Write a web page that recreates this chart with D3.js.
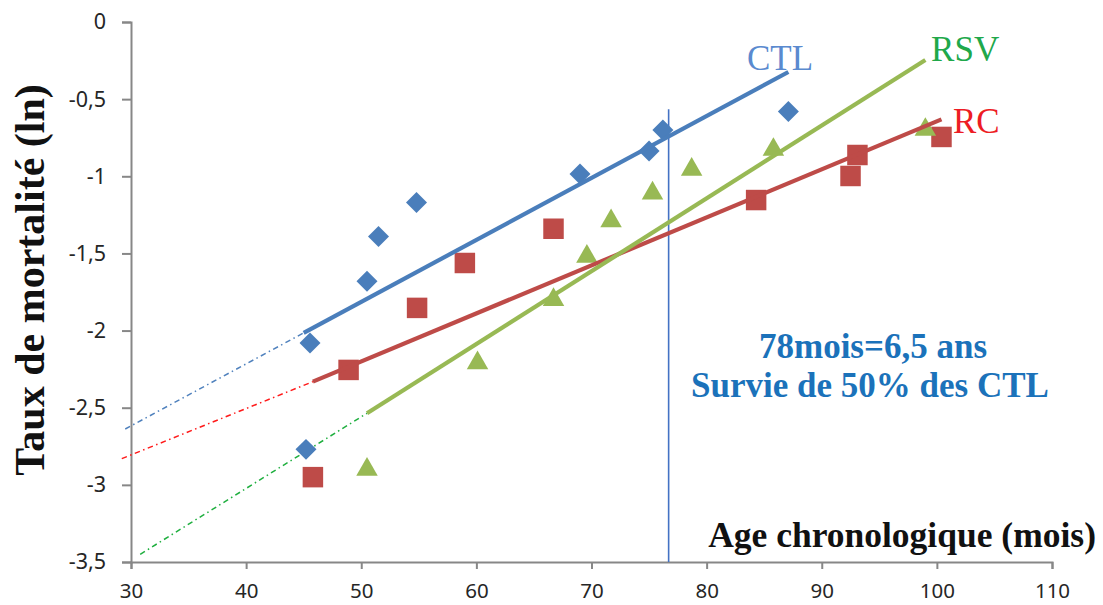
<!DOCTYPE html>
<html>
<head>
<meta charset="utf-8">
<script src="https://cdn.jsdelivr.net/npm/d3@7/dist/d3.min.js"></script>
<style>
  html, body { margin: 0; padding: 0; background: #fff; }
  svg { display: block; }
</style>
</head>
<body>
<svg id="chart" width="1103" height="605"></svg>
<script>
// ---- Data ----
const xTicks = [30, 40, 50, 60, 70, 80, 90, 100, 110];
const yTicks = [0, -0.5, -1, -1.5, -2, -2.5, -3, -3.5];

const ctlX = [45.55, 45.2, 50.5, 51.5, 54.8, 69.0, 75.0, 76.2, 87.1];
const ctlY = [-2.08, -2.77, -1.68, -1.39, -1.17, -0.985, -0.836, -0.70, -0.58];

const rcX = [45.8, 48.9, 54.85, 59.0, 66.7, 84.3, 92.5, 93.1, 100.4];
const rcY = [-2.95, -2.255, -1.853, -1.562, -1.34, -1.154, -0.998, -0.862, -0.745];

const rsvX = [50.5, 60.1, 66.7, 69.6, 71.7, 75.3, 78.7, 85.8, 99.0];
const rsvY = [-2.90, -2.21, -1.80, -1.52, -1.29, -1.11, -0.956, -0.827, -0.697];

// trend lines (solid) and backward extrapolations (dash-dot)
const ctlTrend = [[45.0, -2.015], [87.1, -0.324]];
const ctlExt   = [[29.5, -2.638], [45.0, -2.015]];
const rcTrend  = [[45.8, -2.331], [100.4, -0.631]];
const rcExt    = [[29.2, -2.83], [45.8, -2.331]];
const rsvTrend = [[50.5, -2.536], [99.0, -0.246]];
const rsvExt   = [[30.8, -3.45], [50.5, -2.536]];

const medianAge = 76.7;       // vertical reference line (mois)
const medianTop = -0.565;

const seriesNames = ["CTL", "RC", "RSV"];
const annotLines = ["78mois=6,5 ans", "Survie de 50% des CTL"];
const yTitle = "Taux de mortalité (ln)";
const xTitle = "Age chronologique (mois)";

// ---- Drawing ----
const svg = d3.select("#chart");
const x = d3.scaleLinear().domain([30, 110]).range([131, 1052]);
const y = d3.scaleLinear().domain([-3.5, 0]).range([562, 22]);

const fmt = v => String(v).replace(".", ",");
const axisColor = "#878787";
const tickFont = "'Noto Sans', 'Open Sans', sans-serif";

// Y axis
const gy = svg.append("g").attr("transform", `translate(${x(30)},0)`)
  .call(d3.axisLeft(y).tickValues(yTicks).tickFormat(fmt).tickSize(9).tickPadding(16));
gy.select(".domain").attr("stroke", axisColor).attr("stroke-width", 2);
gy.selectAll(".tick line").attr("stroke", axisColor).attr("stroke-width", 2);
gy.selectAll(".tick text").attr("font-family", tickFont).attr("font-size", 21.5).attr("fill", "#262626");

// X axis
const gx = svg.append("g").attr("transform", `translate(0,${y(-3.5)})`)
  .call(d3.axisBottom(x).tickValues(xTicks).tickFormat(d3.format("d")).tickSize(7).tickPadding(14));
gx.select(".domain").attr("stroke", axisColor).attr("stroke-width", 2);
gx.selectAll(".tick line").attr("stroke", axisColor).attr("stroke-width", 2);
gx.selectAll(".tick text").attr("font-family", tickFont).attr("font-size", 20.5).attr("fill", "#262626");

const line = d3.line().x(d => x(d[0])).y(d => y(d[1]));

// dash-dot extrapolations
const extStyle = [
  [ctlExt, "#4F81BD"],
  [rcExt, "#FF1A1A"],
  [rsvExt, "#1FAF3F"]
];
extStyle.forEach(([d, c]) => {
  svg.append("path").attr("d", line(d)).attr("fill", "none")
    .attr("stroke", c).attr("stroke-width", 1.5).attr("stroke-dasharray", "5.5,3.5,1.5,3.5");
});

// vertical reference line
svg.append("line")
  .attr("x1", x(medianAge)).attr("x2", x(medianAge))
  .attr("y1", y(medianTop)).attr("y2", y(-3.5))
  .attr("stroke", "#4472C4").attr("stroke-width", 1.6);

// markers
const ctlColor = "#4A7EBB", rcColor = "#BE4B48", rsvColor = "#98B954";
const sym = (type, size) => d3.symbol().type(type).size(size)();

svg.append("g").selectAll("path").data(rcX.map((v, i) => [v, rcY[i]])).join("path")
  .attr("d", sym(d3.symbolSquare, 420))
  .attr("transform", d => `translate(${x(d[0])},${y(d[1])})`)
  .attr("fill", rcColor);

svg.append("g").selectAll("path").data(rsvX.map((v, i) => [v, rsvY[i]])).join("path")
  .attr("d", sym(d3.symbolTriangle, 200))
  .attr("transform", d => `translate(${x(d[0])},${y(d[1])})`)
  .attr("fill", rsvColor);

svg.append("g").selectAll("path").data(ctlX.map((v, i) => [v, ctlY[i]])).join("path")
  .attr("d", sym(d3.symbolSquare, 220))
  .attr("transform", d => `translate(${x(d[0])},${y(d[1])}) rotate(45)`)
  .attr("fill", ctlColor);

// solid trend lines
[[ctlTrend, ctlColor], [rcTrend, rcColor], [rsvTrend, rsvColor]].forEach(([d, c]) => {
  svg.append("path").attr("d", line(d)).attr("fill", "none")
    .attr("stroke", c).attr("stroke-width", 4.2);
});

// series labels
const serif = "'Liberation Serif', 'DejaVu Serif', serif";
svg.append("text").attr("x", x(83.5)).attr("y", y(-0.31)).text(seriesNames[0])
  .attr("font-family", serif).attr("font-size", 35).attr("fill", "#5A8ACF");
svg.append("text").attr("x", x(101.4)).attr("y", y(-0.72)).text(seriesNames[1])
  .attr("font-family", serif).attr("font-size", 35).attr("fill", "#ED1C24");
svg.append("text").attr("x", x(99.5)).attr("y", y(-0.25)).text(seriesNames[2])
  .attr("font-family", serif).attr("font-size", 35).attr("fill", "#20A84A");

// annotation
const ann = svg.append("text").attr("font-family", serif).attr("font-weight", "bold")
  .attr("font-size", 35).attr("fill", "#1B72BA").attr("text-anchor", "middle");
ann.append("tspan").attr("x", 873).attr("y", 358).text(annotLines[0]);
ann.append("tspan").attr("x", 870).attr("y", 397).text(annotLines[1]);

// axis titles
svg.append("text").attr("transform", "translate(44,280) rotate(-90)")
  .attr("text-anchor", "middle").attr("font-family", serif).attr("font-weight", "bold")
  .attr("font-size", 42).attr("fill", "#111").text(yTitle);
svg.append("text").attr("x", 1096).attr("y", 547)
  .attr("text-anchor", "end").attr("font-family", serif).attr("font-weight", "bold")
  .attr("font-size", 35.5).attr("fill", "#111").text(xTitle);
</script>
</body>
</html>
